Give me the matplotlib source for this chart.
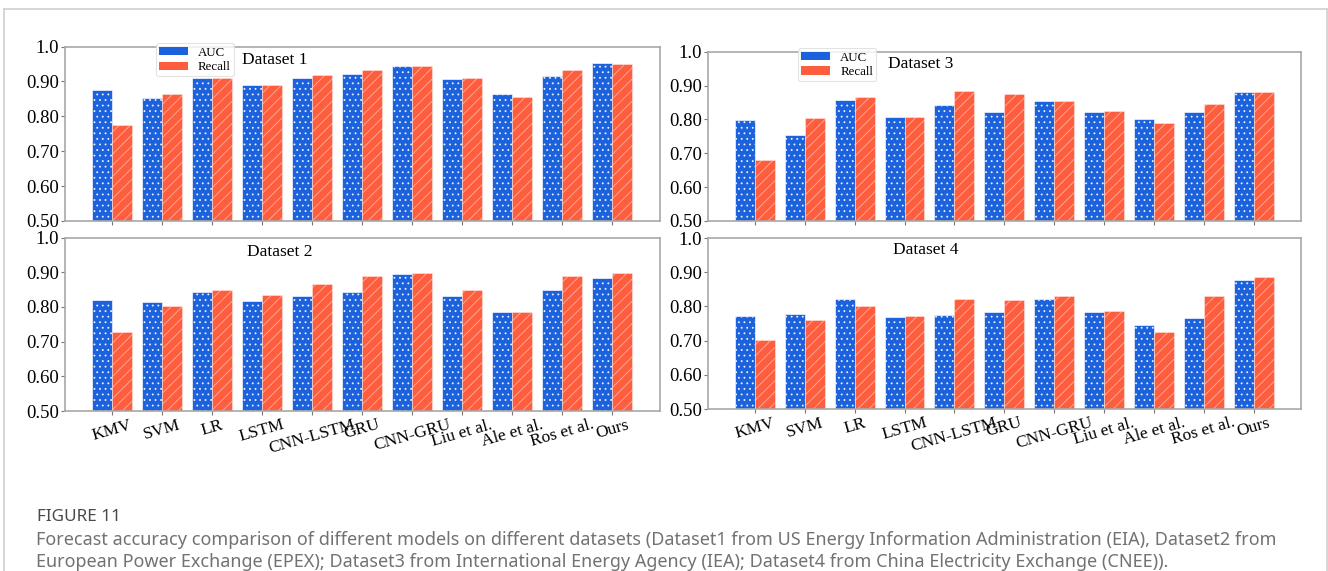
import numpy as np
import matplotlib
matplotlib.use("Agg")
import matplotlib.pyplot as plt
from matplotlib.lines import Line2D
from matplotlib import font_manager
from matplotlib.font_manager import FontProperties

models = ["KMV", "SVM", "LR", "LSTM", "CNN-LSTM", "GRU", "CNN-GRU",
          "Liu et al.", "Ale et al.", "Ros et al.", "Ours"]

auc_d1 = [0.876, 0.852, 0.910, 0.890, 0.909, 0.922, 0.943, 0.907, 0.863, 0.916, 0.953]
recall_d1 = [0.775, 0.865, 0.910, 0.890, 0.919, 0.934, 0.943, 0.909, 0.855, 0.932, 0.949]

auc_d2 = [0.821, 0.815, 0.843, 0.818, 0.831, 0.843, 0.895, 0.831, 0.785, 0.848, 0.883]
recall_d2 = [0.727, 0.803, 0.850, 0.833, 0.866, 0.889, 0.898, 0.850, 0.785, 0.889, 0.898]

auc_d3 = [0.799, 0.755, 0.858, 0.806, 0.844, 0.822, 0.855, 0.823, 0.801, 0.823, 0.882]
recall_d3 = [0.679, 0.803, 0.867, 0.807, 0.885, 0.874, 0.855, 0.825, 0.789, 0.845, 0.880]

auc_d4 = [0.773, 0.777, 0.823, 0.770, 0.775, 0.785, 0.823, 0.783, 0.746, 0.767, 0.878]
recall_d4 = [0.701, 0.759, 0.802, 0.771, 0.823, 0.819, 0.830, 0.788, 0.724, 0.831, 0.886]

yticks = [0.5, 0.6, 0.7, 0.8, 0.9, 1.0]
ytick_labels = ["0.50", "0.60", "0.70", "0.80", "0.90", "1.0"]

caption_head = "FIGURE 11"
caption_lines = [
    "Forecast accuracy comparison of different models on different datasets (Dataset1 from US Energy Information Administration (EIA), Dataset2 from",
    "European Power Exchange (EPEX); Dataset3 from International Energy Agency (IEA); Dataset4 from China Electricity Exchange (CNEE)).",
]

BLUE = "#1c62dc"
RED = "#ff5e3e"
SERIF = "Liberation Serif"

plt.rcParams["hatch.linewidth"] = 0.6
plt.rcParams["font.family"] = SERIF

fig = plt.figure(figsize=(13.28, 5.71), dpi=100)


def draw_panel(rect, auc, recall, title, title_xy, show_labels, legend_xy=None):
    ax = fig.add_axes(rect)
    x = np.arange(len(models))
    w = 0.4
    ax.bar(x - w / 2, np.array(auc) - 0.5, w, bottom=0.5, color=BLUE,
           edgecolor=(1, 1, 1, 0.85), linewidth=0.5, hatch="...", label="AUC")
    ax.bar(x + w / 2, np.array(recall) - 0.5, w, bottom=0.5, color=RED,
           edgecolor=(1, 1, 1, 0.5), linewidth=0.5, hatch="///", label="Recall")
    ax.set_xlim(-0.94, 10.95)
    ax.set_ylim(0.5, 1.0)
    ax.tick_params(length=3, width=0.8, color="#777777", pad=1.2,
                   labelfontfamily=SERIF)
    ax.tick_params(axis="y", labelsize=13.5)
    ax.tick_params(axis="x", labelsize=12.5)
    ax.set_yticks(yticks)
    ax.set_yticklabels(ytick_labels)
    ax.set_xticks(x)
    if show_labels:
        ax.set_xticklabels(models, rotation=16)
    else:
        ax.set_xticklabels([])
    for s in ax.spines.values():
        s.set_color("#a8a8a8")
        s.set_linewidth(1.2)
    ax.text(title_xy[0], title_xy[1], title, transform=ax.transAxes,
            fontsize=12.5, va="center", ha="left", family=SERIF)
    if legend_xy is not None:
        leg = ax.legend(loc="upper left", bbox_to_anchor=legend_xy,
                        prop={"family": SERIF, "size": 9.3},
                        frameon=True, borderpad=0.25, labelspacing=0.2,
                        handlelength=2.2, handleheight=0.6, handletextpad=0.8,
                        borderaxespad=0.0)
        for h in leg.legend_handles:
            h.set_hatch(None)
            h.set_edgecolor("none")
        leg.get_frame().set_edgecolor("#dddddd")
        leg.get_frame().set_linewidth(0.8)
    return ax


draw_panel([0.04895, 0.61296, 0.44804, 0.30560], auc_d1, recall_d1,
           "Dataset 1", (0.297, 0.925), False, legend_xy=(0.153, 1.018))
draw_panel([0.04895, 0.28021, 0.44804, 0.30385], auc_d2, recall_d2,
           "Dataset 2", (0.306, 0.915), True)
draw_panel([0.53313, 0.61296, 0.44654, 0.29650], auc_d3, recall_d3,
           "Dataset 3", (0.303, 0.925), False, legend_xy=(0.152, 1.02))
draw_panel([0.53313, 0.28371, 0.44654, 0.29947], auc_d4, recall_d4,
           "Dataset 4", (0.312, 0.93), True)

# outer frame of the figure box
W, H = 1328.0, 571.0
frame_kw = dict(color="#cfcfcf", linewidth=1.2, transform=fig.transFigure)
fig.add_artist(Line2D([4 / W, 1327 / W], [1 - 8.7 / H, 1 - 8.7 / H], **frame_kw))
fig.add_artist(Line2D([4 / W, 4 / W], [0, 1 - 8.7 / H], **frame_kw))
fig.add_artist(Line2D([1327 / W, 1327 / W], [0, 1 - 8.7 / H], **frame_kw))

# caption font: pick the upright regular sans face whose size, once the first
# line fills 1237 px, comes closest to ~11 pt
renderer = fig.canvas.get_renderer()
candidates = [FontProperties(family=n) for n in ("Roboto", "Open Sans", "Noto Sans", "Lato")]
for f in font_manager.fontManager.ttflist:
    if ("Narrow" in f.name or "Condensed" in f.name or "condensed" in str(f.stretch)) \
            and "Serif" not in f.name and "Mono" not in f.name \
            and f.style == "normal" and f.weight in (400, "normal", "regular", "book"):
        candidates.append(FontProperties(fname=f.fname))

best, best_size = None, None
for fp in candidates:
    fp = fp.copy()
    fp.set_size(12)
    wpx, _, _ = renderer.get_text_width_height_descent(caption_lines[0], fp, ismath=False)
    size = 12 * 1237.0 / wpx
    if best is None or abs(size - 11.0) < abs(best_size - 11.0):
        best, best_size = fp, size

head_font = best.copy()
head_font.set_size(best_size * 0.95)
fig.text(37 / W, 1 - 517 / H, caption_head, fontproperties=head_font,
         color="#4a4a4a", va="center", ha="left")
for line, y in zip(caption_lines, [540, 562]):
    fp = best.copy()
    fp.set_size(best_size)
    fig.text(36 / W, 1 - y / H, line, fontproperties=fp,
             color="#727272", va="center", ha="left")

fig.savefig("out.png", dpi=100)
